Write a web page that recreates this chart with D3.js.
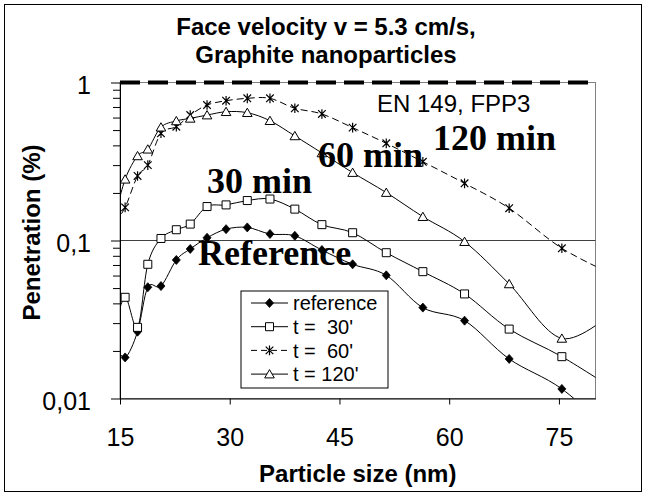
<!DOCTYPE html>
<html>
<head>
<meta charset="utf-8">
<script src="https://cdn.jsdelivr.net/npm/d3@7/dist/d3.min.js"></script>
<style>
  html, body { margin: 0; padding: 0; background: #fff; }
  svg { display: block; }
  text { white-space: pre; }
</style>
</head>
<body>
<svg id="chart" width="646" height="496"></svg>
<script>
// ---- data ----
const sizes = [14.3, 15.7, 17.4, 18.8, 20.6, 22.7, 24.6, 26.9, 29.5, 32.4, 35.5, 38.9, 42.6, 46.8, 51.4, 56.4, 62.1, 68.2, 75.4, 82.7];
const reference = [0.022, 0.0182, 0.0265, 0.0506, 0.0515, 0.0753, 0.0884, 0.104, 0.118, 0.121, 0.110, 0.107, 0.087, 0.0707, 0.0602, 0.0376, 0.0311, 0.0178, 0.0115, 0.0058];
const t30 = [0.028, 0.0437, 0.0282, 0.0707, 0.103, 0.117, 0.127, 0.164, 0.168, 0.179, 0.183, 0.158, 0.126, 0.112, 0.0837, 0.0635, 0.0459, 0.0275, 0.0184, 0.0113];
const t60 = [0.13, 0.162, 0.256, 0.300, 0.477, 0.525, 0.622, 0.720, 0.767, 0.794, 0.794, 0.687, 0.632, 0.518, 0.412, 0.315, 0.230, 0.160, 0.0893, 0.060];
const t120 = [0.14, 0.244, 0.343, 0.378, 0.521, 0.571, 0.593, 0.622, 0.653, 0.644, 0.573, 0.459, 0.358, 0.269, 0.201, 0.1415, 0.0983, 0.0531, 0.0240, 0.0363];

const seriesNames = ["reference", "t =  30'", "t =  60'", "t = 120'"];
const seriesMarkers = ["diamond", "square", "star", "triangle"];
const seriesDashed = [false, false, true, false];

const xTicks = [15, 30, 45, 60, 75];
const xDomain = [15, 80];
const yDomain = [0.01, 1];
const yTicks = [0.01, 0.1, 1];
const yTickLabels = ["0,01", "0,1", "1"];
const yMinorTicks = [0.02, 0.03, 0.04, 0.05, 0.06, 0.07, 0.08, 0.09, 0.2, 0.3, 0.4, 0.5, 0.6, 0.7, 0.8, 0.9];
const limitValue = 1;       // EN 149 FPP3 limit line
const refLineValue = 0.1;   // thin horizontal line

const titleLines = ["Face velocity v = 5.3 cm/s,", "Graphite nanoparticles"];
const xTitle = "Particle size (nm)";
const yTitle = "Penetration (%)";
const normText = "EN 149, FPP3";
const curveLabels = [
  { text: "Reference", x: 198, y: 265 },
  { text: "30 min", x: 207, y: 193 },
  { text: "60 min", x: 318, y: 167 },
  { text: "120 min", x: 433, y: 150 }
];

// ---- layout ----
const SANS = "'Liberation Sans', Arial, sans-serif";
const SERIF = "'Liberation Serif', 'Times New Roman', serif";
const plot = { left: 120, right: 595.5, top: 82.5, bottom: 398.5 };

const svg = d3.select("#chart");
svg.append("rect").attr("width", 646).attr("height", 496).attr("fill", "#fff");
svg.append("rect").attr("x", 4.5).attr("y", 4.5).attr("width", 637).attr("height", 487)
  .attr("fill", "none").attr("stroke", "#000").attr("stroke-width", 1);

const x = d3.scaleLinear().domain(xDomain).range([plot.left, plot.right]);
const y = d3.scaleLog().domain(yDomain).range([plot.bottom, plot.top]);

// clip
svg.append("defs").append("clipPath").attr("id", "clip")
  .append("rect").attr("x", plot.left).attr("y", plot.top)
  .attr("width", plot.right - plot.left).attr("height", plot.bottom - plot.top);

// plot border (gray)
svg.append("rect").attr("x", plot.left).attr("y", plot.top)
  .attr("width", plot.right - plot.left).attr("height", plot.bottom - plot.top)
  .attr("fill", "none").attr("stroke", "#808080").attr("stroke-width", 1);

// title
svg.append("g").selectAll("text").data(titleLines).join("text")
  .attr("x", 326).attr("y", (d, i) => 35 + i * 28)
  .attr("text-anchor", "middle")
  .attr("font-family", SANS).attr("font-weight", "bold").attr("font-size", 24)
  .text(d => d);

// 0.1 line
svg.append("line")
  .attr("x1", plot.left).attr("x2", plot.right)
  .attr("y1", y(refLineValue)).attr("y2", y(refLineValue))
  .attr("stroke", "#404040").attr("stroke-width", 1);

// axes
const xAxis = svg.append("g").attr("transform", `translate(0,${plot.bottom})`)
  .call(d3.axisBottom(x).tickValues(xTicks).tickSize(6).tickSizeOuter(0).tickPadding(24).tickFormat(d3.format("d")));
xAxis.selectAll("text").attr("font-family", SANS).attr("font-size", 25).attr("fill", "#000");
xAxis.selectAll("line,path").attr("stroke", "#000");

const yMinor = svg.append("g").attr("transform", `translate(${plot.left},0)`)
  .call(d3.axisLeft(y).tickValues(yMinorTicks).tickSize(7).tickSizeOuter(0).tickFormat(() => ""));
yMinor.select(".domain").remove();
yMinor.selectAll("line").attr("stroke", "#000");

const yAxis = svg.append("g").attr("transform", `translate(${plot.left},0)`)
  .call(d3.axisLeft(y).tickValues(yTicks).tickSize(9).tickSizeOuter(0).tickPadding(20)
    .tickFormat((d, i) => yTickLabels[i]));
yAxis.selectAll("text").attr("font-family", SANS).attr("font-size", 25).attr("fill", "#000").attr("dy", "0.42em");
yAxis.selectAll("line,path").attr("stroke", "#000");

// axis titles
svg.append("text").attr("x", (plot.left + plot.right) / 2).attr("y", 482)
  .attr("text-anchor", "middle").attr("font-family", SANS).attr("font-weight", "bold").attr("font-size", 24)
  .text(xTitle);
svg.append("text").attr("transform", `translate(40,${(plot.top + plot.bottom) / 2 - 8}) rotate(-90)`)
  .attr("text-anchor", "middle").attr("font-family", SANS).attr("font-weight", "bold").attr("font-size", 24)
  .text(yTitle);

// markers
function markerPath(type) {
  switch (type) {
    case "diamond": return "M0,-4.5L4,0L0,4.5L-4,0Z";
    case "square": return "M-4,-4H4V4H-4Z";
    case "triangle": return "M0,-4.5L4.8,3.8H-4.8Z";
    case "star": return "M-3.8,-3.8L3.8,3.8M-3.8,3.8L3.8,-3.8M0,-4.8V4.8";
  }
}
function drawMarker(g, type, cx, cy) {
  const p = g.append("path").attr("d", markerPath(type)).attr("transform", `translate(${cx},${cy})`);
  if (type === "diamond") p.attr("fill", "#000").attr("stroke", "#000").attr("stroke-width", 0.8);
  else if (type === "star") p.attr("fill", "none").attr("stroke", "#000").attr("stroke-width", 1.2);
  else p.attr("fill", "#fff").attr("stroke", "#000").attr("stroke-width", 1);
}

const allSeries = [reference, t30, t60, t120];
const line = d3.line().x((d, i) => x(sizes[i])).y(d => y(d)).curve(d3.curveCardinal.tension(0));
const plotG = svg.append("g").attr("clip-path", "url(#clip)");
allSeries.forEach((vals, si) => {
  plotG.append("path").datum(vals).attr("d", line)
    .attr("fill", "none").attr("stroke", "#000").attr("stroke-width", 1)
    .attr("stroke-dasharray", seriesDashed[si] ? "7,4" : null);
});
allSeries.forEach((vals, si) => {
  vals.forEach((v, i) => {
    if (sizes[i] >= xDomain[0] && sizes[i] <= xDomain[1]) drawMarker(plotG, seriesMarkers[si], x(sizes[i]), y(v));
  });
});

// limit dashed line at 1 %
svg.append("line").attr("x1", plot.left).attr("x2", plot.right)
  .attr("y1", y(limitValue)).attr("y2", y(limitValue))
  .attr("stroke", "#000").attr("stroke-width", 4).attr("stroke-dasharray", "20,8");

svg.append("text").attr("x", 377).attr("y", 112)
  .attr("font-family", SANS).attr("font-size", 24).text(normText);

// curve labels
svg.append("g").selectAll("text").data(curveLabels).join("text")
  .attr("x", d => d.x).attr("y", d => d.y)
  .attr("font-family", SERIF).attr("font-weight", "bold").attr("font-size", 36)
  .text(d => d.text);

// legend
const lg = svg.append("g");
lg.append("rect").attr("x", 241).attr("y", 291).attr("width", 147).attr("height", 97)
  .attr("fill", "#fff").attr("stroke", "#000").attr("stroke-width", 1);
seriesNames.forEach((name, i) => {
  const cy = 303 + i * 23.7;
  lg.append("line").attr("x1", 251).attr("x2", 288).attr("y1", cy).attr("y2", cy)
    .attr("stroke", "#000").attr("stroke-width", 1)
    .attr("stroke-dasharray", seriesDashed[i] ? "6,4" : null);
  drawMarker(lg, seriesMarkers[i], 269.5, cy);
  lg.append("text").attr("x", 293).attr("y", cy).attr("dy", "0.36em")
    .attr("font-family", SANS).attr("font-size", 20).text(name);
});
</script>
</body>
</html>
